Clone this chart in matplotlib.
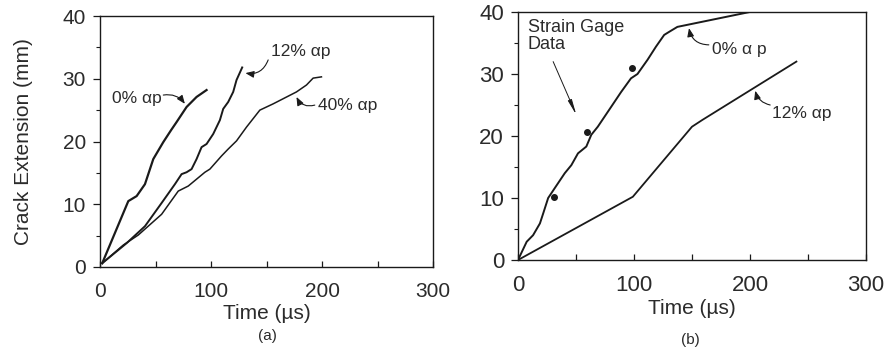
import matplotlib
matplotlib.use("Agg")
import matplotlib.pyplot as plt
from matplotlib.ticker import MultipleLocator

plt.rcParams['font.family'] = ['Liberation Sans', 'DejaVu Sans']
ink = '#1a1a1a'
txt = '#2b2b2b'

# panel (a) crack extension curves
a_t0 = [2, 25.5, 33, 40.5, 48, 57, 64, 69, 78, 87, 96]
a_y0 = [0.6, 10.5, 11.3, 13.2, 17.2, 19.9, 21.8, 23.1, 25.5, 27.1, 28.2]

a_t12 = [2, 24, 40.5, 55.5, 67.5, 73.5, 78, 82.5, 87, 91.5, 96, 102, 108, 111, 115.5, 120, 123, 128.1]
a_y12 = [0.6, 3.8, 6.5, 10.2, 13.2, 14.8, 15.1, 15.6, 17.2, 19.1, 19.6, 21.2, 23.4, 25.2, 26.3, 27.9, 29.8, 31.8]

a_t40 = [2, 21, 34.5, 55.5, 70.5, 79.5, 94.5, 99, 109.5, 115.5, 123, 132, 144, 156, 177, 186, 192, 199.5]
a_y40 = [0.6, 3.5, 5.1, 8.4, 12.1, 12.9, 15.1, 15.6, 17.7, 18.8, 20.1, 22.3, 25.0, 26.0, 27.9, 29.0, 30.1, 30.3]

# panel (b)
b_t0 = [0, 7.5, 13, 18.9, 21.7, 26, 31.7, 40.3, 46, 51.7, 58.9, 63.2, 68.8, 80.3, 88.9,
        97.4, 103, 111.7, 118.9, 126, 130.3, 137.4, 205]
b_y0 = [0, 2.95, 4.0, 5.9, 7.5, 10, 11.6, 14, 15.3, 17.2, 18.3, 20.2, 21.5, 24.7, 27.1,
        29.3, 30, 32.3, 34.4, 36.3, 36.8, 37.6, 40.2]

b_t12 = [0, 99, 150, 159, 240]
b_y12 = [0, 10.2, 21.5, 22.6, 32]

gage_t = [31, 59.7, 98.3]
gage_y = [10.1, 20.7, 31.0]

x_ticks = [0, 100, 200, 300]
y_ticks = [0, 10, 20, 30, 40]

fig = plt.figure(figsize=(8.9, 3.53), dpi=100)
ax1 = fig.add_axes([100 / 890, 86 / 353, 333 / 890, 251 / 353])
ax2 = fig.add_axes([518 / 890, 93 / 353, 348 / 890, 248 / 353])


def style_axes(ax, fs):
    ax.set_xlim(0, 300)
    ax.set_ylim(0, 40)
    ax.set_xticks(x_ticks)
    ax.set_yticks(y_ticks)
    ax.xaxis.set_minor_locator(MultipleLocator(50))
    ax.yaxis.set_minor_locator(MultipleLocator(5))
    ax.tick_params(axis='x', which='both', direction='in', length=4, width=0.9,
                   pad=11, labelsize=fs, colors=ink, labelcolor=txt)
    ax.tick_params(axis='y', which='major', direction='out', length=5, width=0.9,
                   pad=5, labelsize=fs, colors=ink, labelcolor=txt)
    ax.tick_params(axis='y', which='minor', direction='out', length=3, width=0.8, colors=ink)
    for s in ax.spines.values():
        s.set_linewidth(1.0)
        s.set_color(ink)
    ax.set_xlabel('Time (µs)', fontsize=15, color=txt, labelpad=2)


style_axes(ax1, 15)
style_axes(ax2, 16)

arrow = dict(arrowstyle='-|>,head_length=0.5,head_width=0.2', color=ink, lw=0.8,
             shrinkA=0, shrinkB=0)

# panel (a)
ax1.plot(a_t0, a_y0, color=ink, lw=1.6)
ax1.plot(a_t12, a_y12, color=ink, lw=1.4)
ax1.plot(a_t40, a_y40, color=ink, lw=1.1)
ax1.set_ylabel('Crack Extension (mm)', fontsize=15, color=txt)
ax1.yaxis.set_label_coords(-0.2, 0.5)

ax1.text(10.5, 26.9, '0% αp', fontsize=12.5, color=txt, ha='left', va='center')
ax1.annotate('', xy=(76.5, 26.0), xytext=(57, 27.4),
             arrowprops=dict(arrow, connectionstyle='arc3,rad=-0.3'))
ax1.text(154.5, 34.4, '12% αp', fontsize=12.5, color=txt, ha='left', va='center')
ax1.annotate('', xy=(131, 30.9), xytext=(151.5, 33.0),
             arrowprops=dict(arrow, connectionstyle='arc3,rad=-0.4'))
ax1.text(196.5, 25.8, '40% αp', fontsize=12.5, color=txt, ha='left', va='center')
ax1.annotate('', xy=(177, 27.1), xytext=(193.5, 25.8),
             arrowprops=dict(arrow, connectionstyle='arc3,rad=-0.4'))

# panel (b)
ax2.plot(b_t0, b_y0, color=ink, lw=1.4)
ax2.plot(b_t12, b_y12, color=ink, lw=1.3)
ax2.plot(gage_t, gage_y, 'o', color=ink, ms=4)
ax2.text(8.3, 38.8, 'Strain Gage\nData', fontsize=13, color=txt, ha='left', va='top',
         linespacing=0.95)
ax2.annotate('', xy=(50.3, 23.4), xytext=(30.3, 32.0),
             arrowprops=dict(arrowstyle='-|>,head_length=0.9,head_width=0.12', color=ink,
                             lw=0.7, shrinkA=0, shrinkB=0))
ax2.text(167.4, 33.9, '0% α p', fontsize=12.5, color=txt, ha='left', va='center')
ax2.annotate('', xy=(147.4, 37.4), xytext=(164.5, 34.7),
             arrowprops=dict(arrow, connectionstyle='arc3,rad=-0.4'))
ax2.text(218.8, 23.7, '12% αp', fontsize=12.5, color=txt, ha='left', va='center')
ax2.annotate('', xy=(204.5, 27.3), xytext=(217.4, 25.0),
             arrowprops=dict(arrow, connectionstyle='arc3,rad=-0.3'))

fig.text(267 / 890, 1 - 336 / 353, '(a)', fontsize=11, color=txt, ha='center', va='center')
fig.text(690 / 890, 1 - 340 / 353, '(b)', fontsize=11, color=txt, ha='center', va='center')

fig.savefig('out.png', dpi=100, facecolor='white')
